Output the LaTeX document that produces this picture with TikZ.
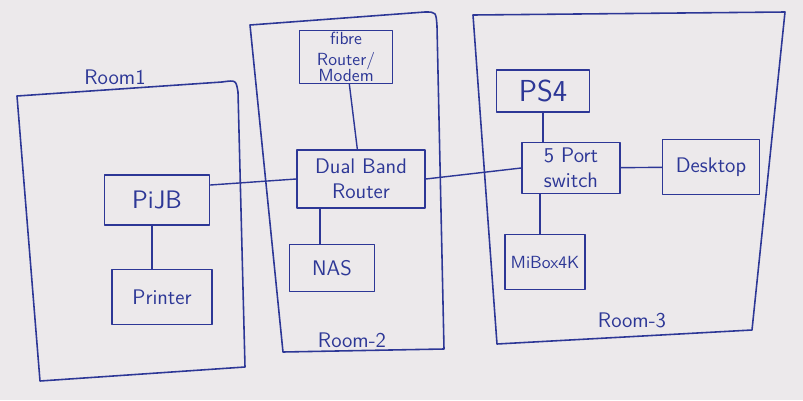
\documentclass[tikz,border=0pt]{standalone}
\usepackage{tikz}
\usetikzlibrary{positioning}
\usepackage{xcolor}
\definecolor{ink}{RGB}{45,55,150}
\definecolor{paper}{RGB}{236,233,235}

\begin{document}
\begin{tikzpicture}[x=0.2mm,y=-0.2mm,line cap=round,line join=round,font=\sffamily\large,
  dev/.style={draw=ink,line width=0.9pt,align=center,inner sep=1pt,text=ink},
  wire/.style={draw=ink,line width=0.8pt},
  room/.style={draw=ink,line width=0.9pt},
  roomlabel/.style={text=ink,font=\sffamily\large}]
\fill[paper] (0,0) rectangle (803,400);
\useasboundingbox (0,0) rectangle (803,400);
\draw[room] (17,96) -- (222,82) .. controls (236,80) .. (238,92) -- (245,367) -- (40,381) -- cycle;
\draw[room] (250,25) -- (425,12) .. controls (436,12) .. (437,26) -- (444,349) -- (283,352) -- cycle;
\draw[room] (473,15) -- (785,12) -- (752,330) -- (497,344) -- cycle;
\node[roomlabel] (room1) at (115,77) {Room1};
\node[roomlabel] (room2) at (352,340) {Room-2};
\node[roomlabel] (room3) at (632,320) {Room-3};
\node[dev,minimum width=18.6mm,minimum height=10mm,font=\sffamily] (fibre) at (346,57) {fibre\\Router/\\[-3pt]Modem};
\node[dev,minimum width=25.6mm,minimum height=11.6mm] (router) at (361,179) {Dual Band\\Router};
\node[dev,minimum width=21mm,minimum height=10mm,font=\sffamily\Large] (pijb) at (157,200) {PiJB};
\node[dev,minimum width=20mm,minimum height=11mm] (printer) at (162,297) {Printer};
\node[dev,minimum width=17mm,minimum height=9.4mm] (nas) at (332,268) {NAS};
\node[dev,minimum width=18.6mm,minimum height=8.4mm,font=\sffamily\LARGE] (ps4) at (543,91) {PS4};
\node[dev,minimum width=19.6mm,minimum height=10.2mm] (switch) at (571,168) {5 Port\\switch};
\node[dev,minimum width=19.4mm,minimum height=11mm] (desktop) at (711,167) {Desktop};
\node[dev,minimum width=16mm,minimum height=11mm,font=\sffamily\normalsize] (mibox) at (545,262) {MiBox4K};
\draw[wire] (fibre) -- (router);
\draw[wire] ([yshift=3mm]pijb.east) -- (router.west);
\draw[wire] (router.east) -- (switch.west);
\draw[wire] (ps4.south) -- (ps4.south |- switch.north);
\draw[wire] (switch) -- (desktop);
\draw[wire] ([xshift=-1mm]mibox.north) -- ([xshift=-1mm]mibox.north |- switch.south);
\draw[wire] ([xshift=-2.4mm]nas.north) -- ([xshift=-2.4mm]nas.north |- router.south);
\draw[wire] ([xshift=-2mm]printer.north) -- ([xshift=-2mm]printer.north |- pijb.south);
\end{tikzpicture}
\end{document}
